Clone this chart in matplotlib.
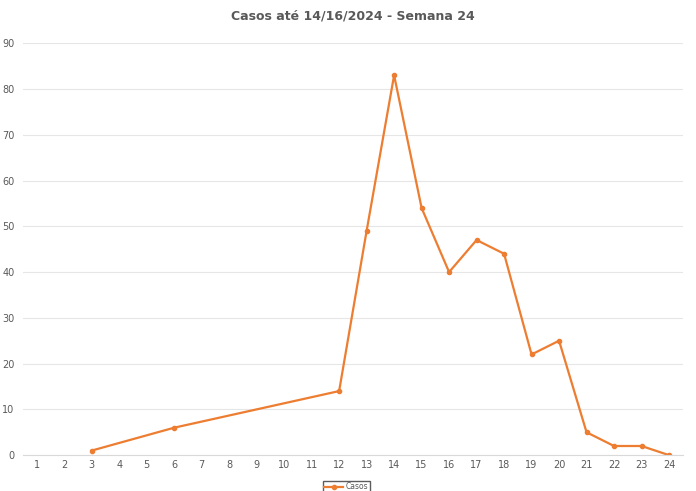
import matplotlib.pyplot as plt

# weeks 1..24 shown on the axis, cases only where reported
weeks = list(range(1, 25))
case_weeks = [3, 6, 12, 13, 14, 15, 16, 17, 18, 19, 20, 21, 22, 23, 24]
cases = [1, 6, 14, 49, 83, 54, 40, 47, 44, 22, 25, 5, 2, 2, 0]
yticks = list(range(0, 100, 10))

plt.rcParams['font.family'] = ['Liberation Sans Narrow', 'DejaVu Sans']

fig = plt.figure(figsize=(6.96, 4.91), dpi=100)
ax = fig.add_axes([0.033, 0.073, 0.948, 0.839])

ax.plot(case_weeks, cases, color='#ED7D31', lw=1.6, marker='o', ms=3, label='Casos')

ax.set_xlim(0.5, 24.5)
ax.set_ylim(0, 90)
ax.set_xticks(weeks)
ax.set_yticks(yticks)
ax.tick_params(length=0, labelsize=7, colors='#595959')
ax.tick_params(axis='y', pad=6)
ax.grid(axis='y', color='#e6e6e6', lw=0.8)
for s in ['top', 'right', 'left']:
    ax.spines[s].set_visible(False)
ax.spines['bottom'].set_color('#d9d9d9')

ax.set_title('Casos até 14/16/2024 - Semana 24', fontsize=9, color='#595959',
             fontweight='bold', pad=17)

leg = ax.legend(loc='upper center', bbox_to_anchor=(0.49, -0.053), fontsize=5.5,
                frameon=True, fancybox=False, edgecolor='#333333', handlelength=2.5,
                borderpad=0.2, handletextpad=0.3, labelcolor='#595959')

fig.savefig('out.png')
